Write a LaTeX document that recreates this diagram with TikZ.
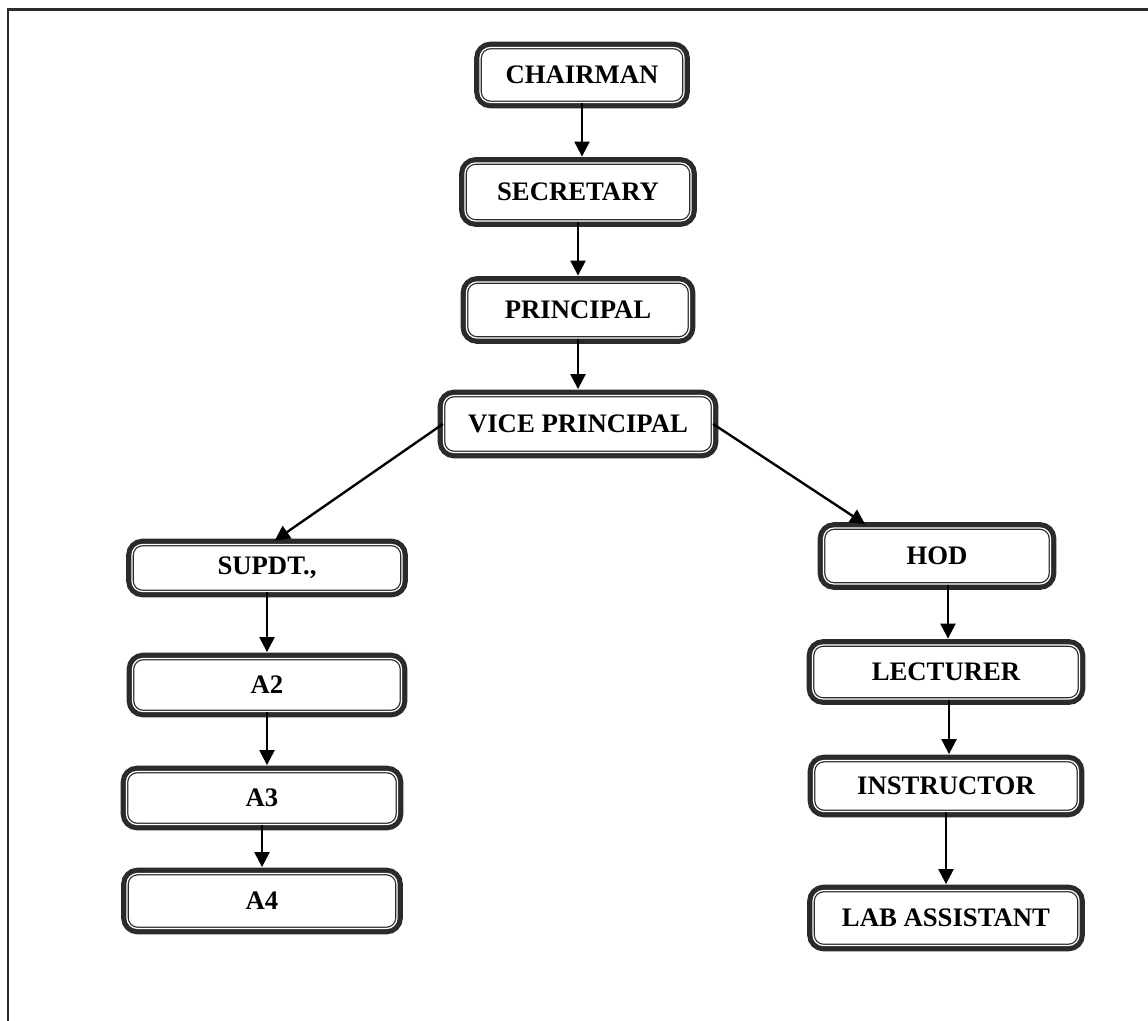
\documentclass[tikz,border=0pt]{standalone}
\usepackage{fontspec}
\setmainfont{Liberation Serif}
\usetikzlibrary{positioning,arrows.meta}
\definecolor{framegray}{HTML}{2B2B2B}

\tikzset{
  post/.style={draw=framegray, fill=white, rounded corners=6pt,
    line width=0.7pt, double=white, double distance=0.7pt,
    preaction={draw=framegray, line width=6.6pt},
    minimum height=1.1cm, inner sep=2pt,
    font=\bfseries\fontsize{15.2}{17}\selectfont},
  link/.style={-{Triangle[length=8.5pt,width=8.5pt]}, line width=1.35pt,
    shorten >=3.3pt}
}

\begin{document}
\begin{tikzpicture}[node distance=2.3cm,on grid]
  \useasboundingbox (0,0) rectangle (22.96,-20.42);
  \draw[framegray, line width=1.7pt] (22.96,-0.2) -- (0.16,-0.2) -- (0.16,-20.42);

  \node[post, minimum width=4.08cm] (chairman) at (11.64,-1.5) {CHAIRMAN};
  \node[post, minimum width=4.52cm, minimum height=1.16cm] (secretary) [below=2.34cm of chairman, xshift=-0.08cm] {SECRETARY};
  \node[post, minimum width=4.46cm, minimum height=1.12cm] (principal) [below=2.36cm of secretary] {PRINCIPAL};
  \node[post, minimum width=5.38cm, minimum height=1.14cm] (vice) [below=2.28cm of principal] {VICE PRINCIPAL};

  \node[post, minimum width=5.4cm, minimum height=0.94cm] (supdt) at (5.34,-11.36) {SUPDT.,};
  \node[post, minimum width=5.38cm, minimum height=1.06cm] (a2) [below=2.34cm of supdt] {A2};
  \node[post, minimum width=5.42cm, minimum height=1.06cm] (a3) [below=2.26cm of a2, xshift=-0.1cm] {A3};
  \node[post, minimum width=5.4cm] (a4) [below=2.06cm of a3] {A4};

  \node[post, minimum width=4.54cm, minimum height=1.12cm] (hod) at (18.74,-11.12) {HOD};
  \node[post, minimum width=5.34cm, minimum height=1.08cm] (lecturer) [below=2.32cm of hod, xshift=0.18cm] {LECTURER};
  \node[post, minimum width=5.3cm, minimum height=1.02cm] (instructor) [below=2.28cm of lecturer] {INSTRUCTOR};
  \node[post, minimum width=5.32cm] (lab) [below=2.64cm of instructor] {LAB ASSISTANT};

  % top of the chart
  \draw[link] (chairman.south) -- (chairman.south |- secretary.north);
  \draw[link] (secretary.south) -- (secretary.south |- principal.north);
  \draw[link] (principal.south) -- (principal.south |- vice.north);

  % split into two branches
  \draw[link] (vice.west) -- ([xshift=0.06cm]supdt.north);
  \draw[link] (vice.east) -- ([xshift=-1.34cm]hod.north);

  % office side
  \draw[link] (supdt.south) -- (supdt.south |- a2.north);
  \draw[link] (a2.south) -- (a2.south |- a3.north);
  \draw[link] (a3.south) -- (a3.south |- a4.north);

  % department side
  \draw[link] ([xshift=0.04cm]hod.south -| lecturer) -- ([xshift=0.04cm]lecturer.north);
  \draw[link] ([xshift=0.06cm]lecturer.south) -- ([xshift=0.06cm]lecturer.south |- instructor.north);
  \draw[link] (instructor.south) -- (instructor.south |- lab.north);
\end{tikzpicture}
\end{document}
